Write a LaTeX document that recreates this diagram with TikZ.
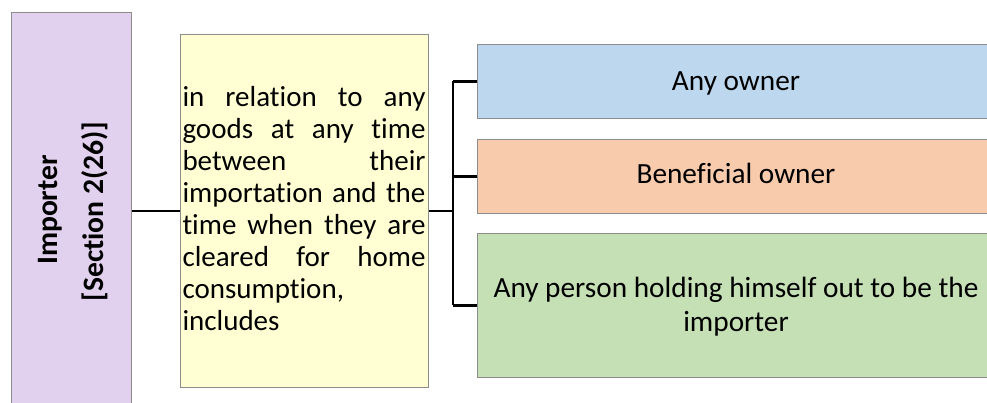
\documentclass[tikz,border=0pt]{standalone}
\usepackage{fontspec}
\setmainfont{Carlito}[Ligatures={NoCommon}]
\definecolor{purp}{HTML}{E1D0EE}
\definecolor{yel}{HTML}{FFFFD3}
\definecolor{blu}{HTML}{BDD7EE}
\definecolor{ora}{HTML}{F8CBAD}
\definecolor{gre}{HTML}{C5E0B4}
\definecolor{edge}{HTML}{8C8C8C}
\newcommand{\jline}[1]{\hbox to 243pt{#1}}
\tikzset{
  boxx/.style={draw=edge, line width=0.8pt, inner sep=0pt, anchor=north west},
  conn/.style={draw=black, line width=2.2pt},
  lbl/.style={font=\fontsize{29.3}{34}\selectfont, inner sep=0pt, align=center, anchor=base},
  vlbl/.style={font=\fontsize{29.6}{36}\selectfont\bfseries, inner sep=0pt, rotate=90, anchor=base}
}
\begin{document}
\begin{tikzpicture}[x=1pt,y=-1pt]
\useasboundingbox (0,0) rectangle (987,402);
\clip (0,0) rectangle (987,402);
\node[boxx, fill=purp, minimum width=120pt, minimum height=398pt] (imp) at (11,12) {};
\node[vlbl] (implbl) at (57,210) {Importer};
\node[vlbl] (secl) at (103,211.5) {[Section 2(26)]};
\node[boxx, fill=yel, minimum width=248pt, minimum height=353pt] (yl) at (180,34) {};
\node[inner sep=0pt, align=left, font=\fontsize{29}{32.1}\selectfont, anchor=base west] (yltxt) at (182.3,330.7) {%
\jline{in\hfill relation\hfill to\hfill any}\\
\jline{goods\hfill at\hfill any\hfill time}\\
\jline{between\hfill their}\\
\jline{importation\hfill and\hfill the}\\
\jline{time\hfill when\hfill they\hfill are}\\
\jline{cleared\hfill for\hfill home}\\
consumption,\\
includes};
\node[boxx, fill=blu, minimum width=520pt, minimum height=74pt] (b1) at (477,44) {};
\node[boxx, fill=ora, minimum width=520pt, minimum height=74pt] (b2) at (477,139) {};
\node[boxx, fill=gre, minimum width=520pt, minimum height=144pt] (b3) at (477,233) {};
\node[lbl] (t1) at (736,90) {Any owner};
\node[lbl] (t2) at (736,183) {Beneficial owner};
\node[lbl] (t3) at (736,331) {Any person holding himself out to be the\\importer};
\coordinate (j) at (453,211);
\draw[conn] (imp.east |- j) -- (yl.west |- j);
\draw[conn] (yl.east |- j) -- (j);
\draw[conn] (j |- b1.west) -- (j |- b3.west);
\draw[conn] (j |- b1.west) -- (b1.west);
\draw[conn] (j |- b2.west) -- (b2.west);
\draw[conn] (j |- b3.west) -- (b3.west);
\end{tikzpicture}
\end{document}
